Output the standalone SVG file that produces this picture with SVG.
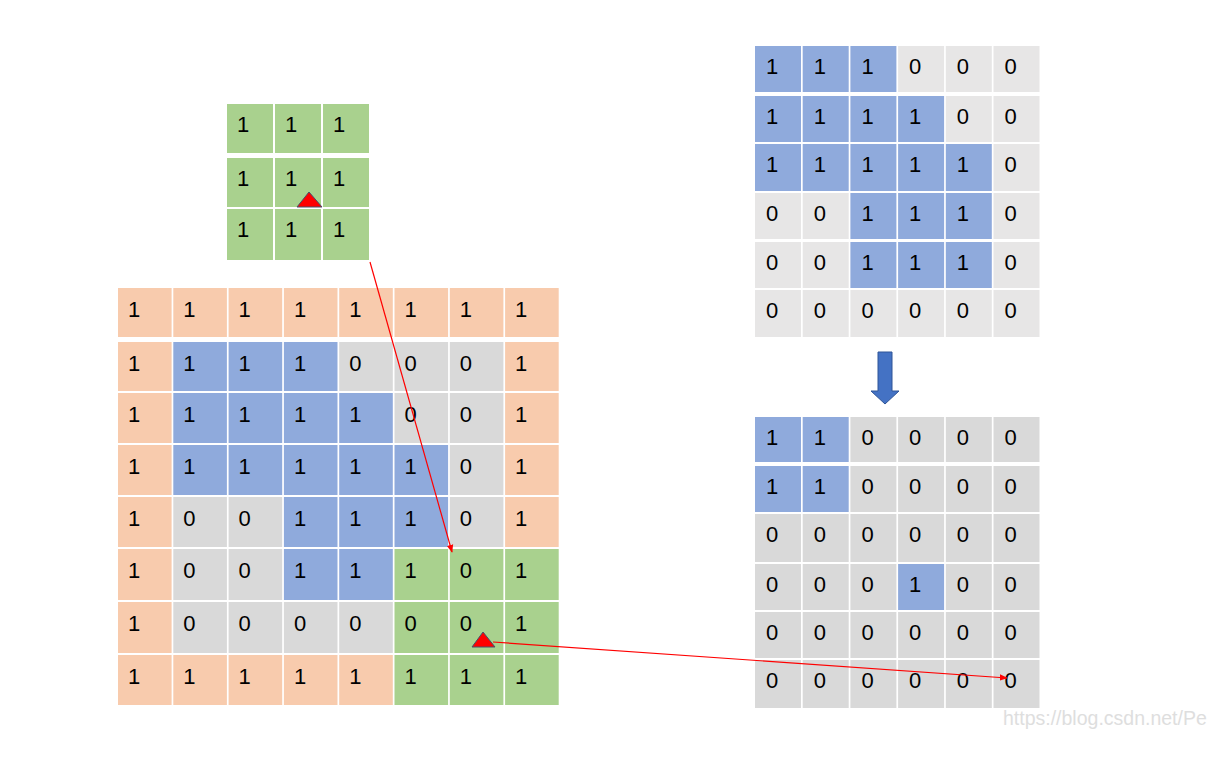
<svg xmlns="http://www.w3.org/2000/svg" width="1210" height="764" viewBox="0 0 1210 764">
<style>
.o{fill:#F8CBAD}.b{fill:#8FAADC}.g{fill:#D9D9D9}.lg{fill:#E7E6E6}.gr{fill:#A9D18E}
text{font-family:"Liberation Sans",Arial,sans-serif;font-size:22px;fill:#000}
.wm{font-size:19.5px;fill:#DEDEDE}
.tri{fill:#FF0000;stroke:#44546A;stroke-width:1}
.conn{stroke:#FF0000;stroke-width:1.2;fill:none;marker-end:url(#ah)}
</style>
<defs>
<marker id="ah" viewBox="0 0 10 10" refX="9" refY="5" markerWidth="8" markerHeight="8" markerUnits="userSpaceOnUse" orient="auto">
<path d="M0,1 L10,5 L0,9 Z" fill="#FF0000"/>
</marker>
</defs>
<rect width="1210" height="764" fill="#FFFFFF"/>

<g id="kernel">
<rect class="gr" x="227" y="104" width="46" height="49"/><rect class="gr" x="275" y="104" width="46" height="49"/><rect class="gr" x="323" y="104" width="46" height="49"/>
<rect class="gr" x="227" y="158" width="46" height="49"/><rect class="gr" x="275" y="158" width="46" height="49"/><rect class="gr" x="323" y="158" width="46" height="49"/>
<rect class="gr" x="227" y="209" width="46" height="51"/><rect class="gr" x="275" y="209" width="46" height="51"/><rect class="gr" x="323" y="209" width="46" height="51"/>
<text x="237" y="132">1</text><text x="285" y="132">1</text><text x="333" y="132">1</text>
<text x="237" y="186">1</text><text x="285" y="186">1</text><text x="333" y="186">1</text>
<text x="237" y="237">1</text><text x="285" y="237">1</text><text x="333" y="237">1</text>
<polygon class="tri" points="309,192 297,207 322,207"/>
</g>

<g id="input-grid">
<!-- row 1 -->
<rect class="o" x="118" y="288" width="53.6" height="49"/><rect class="o" x="173.3" y="288" width="53.6" height="49"/><rect class="o" x="228.6" y="288" width="53.6" height="49"/><rect class="o" x="283.9" y="288" width="53.6" height="49"/><rect class="o" x="339.2" y="288" width="53.6" height="49"/><rect class="o" x="394.5" y="288" width="53.6" height="49"/><rect class="o" x="449.8" y="288" width="53.6" height="49"/><rect class="o" x="505.1" y="288" width="53.6" height="49"/>
<!-- row 2 -->
<rect class="o" x="118" y="342" width="53.6" height="49"/><rect class="b" x="173.3" y="342" width="53.6" height="49"/><rect class="b" x="228.6" y="342" width="53.6" height="49"/><rect class="b" x="283.9" y="342" width="53.6" height="49"/><rect class="g" x="339.2" y="342" width="53.6" height="49"/><rect class="g" x="394.5" y="342" width="53.6" height="49"/><rect class="g" x="449.8" y="342" width="53.6" height="49"/><rect class="o" x="505.1" y="342" width="53.6" height="49"/>
<!-- row 3 -->
<rect class="o" x="118" y="393" width="53.6" height="50"/><rect class="b" x="173.3" y="393" width="53.6" height="50"/><rect class="b" x="228.6" y="393" width="53.6" height="50"/><rect class="b" x="283.9" y="393" width="53.6" height="50"/><rect class="b" x="339.2" y="393" width="53.6" height="50"/><rect class="g" x="394.5" y="393" width="53.6" height="50"/><rect class="g" x="449.8" y="393" width="53.6" height="50"/><rect class="o" x="505.1" y="393" width="53.6" height="50"/>
<!-- row 4 -->
<rect class="o" x="118" y="445" width="53.6" height="50"/><rect class="b" x="173.3" y="445" width="53.6" height="50"/><rect class="b" x="228.6" y="445" width="53.6" height="50"/><rect class="b" x="283.9" y="445" width="53.6" height="50"/><rect class="b" x="339.2" y="445" width="53.6" height="50"/><rect class="b" x="394.5" y="445" width="53.6" height="50"/><rect class="g" x="449.8" y="445" width="53.6" height="50"/><rect class="o" x="505.1" y="445" width="53.6" height="50"/>
<!-- row 5 -->
<rect class="o" x="118" y="497" width="53.6" height="50"/><rect class="g" x="173.3" y="497" width="53.6" height="50"/><rect class="g" x="228.6" y="497" width="53.6" height="50"/><rect class="b" x="283.9" y="497" width="53.6" height="50"/><rect class="b" x="339.2" y="497" width="53.6" height="50"/><rect class="b" x="394.5" y="497" width="53.6" height="50"/><rect class="g" x="449.8" y="497" width="53.6" height="50"/><rect class="o" x="505.1" y="497" width="53.6" height="50"/>
<!-- row 6 -->
<rect class="o" x="118" y="549" width="53.6" height="51"/><rect class="g" x="173.3" y="549" width="53.6" height="51"/><rect class="g" x="228.6" y="549" width="53.6" height="51"/><rect class="b" x="283.9" y="549" width="53.6" height="51"/><rect class="b" x="339.2" y="549" width="53.6" height="51"/><rect class="gr" x="394.5" y="549" width="53.6" height="51"/><rect class="gr" x="449.8" y="549" width="53.6" height="51"/><rect class="gr" x="505.1" y="549" width="53.6" height="51"/>
<!-- row 7 -->
<rect class="o" x="118" y="602" width="53.6" height="51"/><rect class="g" x="173.3" y="602" width="53.6" height="51"/><rect class="g" x="228.6" y="602" width="53.6" height="51"/><rect class="g" x="283.9" y="602" width="53.6" height="51"/><rect class="g" x="339.2" y="602" width="53.6" height="51"/><rect class="gr" x="394.5" y="602" width="53.6" height="51"/><rect class="gr" x="449.8" y="602" width="53.6" height="51"/><rect class="gr" x="505.1" y="602" width="53.6" height="51"/>
<!-- row 8 -->
<rect class="o" x="118" y="655" width="53.6" height="50"/><rect class="o" x="173.3" y="655" width="53.6" height="50"/><rect class="o" x="228.6" y="655" width="53.6" height="50"/><rect class="o" x="283.9" y="655" width="53.6" height="50"/><rect class="o" x="339.2" y="655" width="53.6" height="50"/><rect class="gr" x="394.5" y="655" width="53.6" height="50"/><rect class="gr" x="449.8" y="655" width="53.6" height="50"/><rect class="gr" x="505.1" y="655" width="53.6" height="50"/>

<text x="128" y="317">1</text><text x="183.3" y="317">1</text><text x="238.6" y="317">1</text><text x="293.9" y="317">1</text><text x="349.2" y="317">1</text><text x="404.5" y="317">1</text><text x="459.8" y="317">1</text><text x="515.1" y="317">1</text>
<text x="128" y="371">1</text><text x="183.3" y="371">1</text><text x="238.6" y="371">1</text><text x="293.9" y="371">1</text><text x="349.2" y="371">0</text><text x="404.5" y="371">0</text><text x="459.8" y="371">0</text><text x="515.1" y="371">1</text>
<text x="128" y="422">1</text><text x="183.3" y="422">1</text><text x="238.6" y="422">1</text><text x="293.9" y="422">1</text><text x="349.2" y="422">1</text><text x="404.5" y="422">0</text><text x="459.8" y="422">0</text><text x="515.1" y="422">1</text>
<text x="128" y="474">1</text><text x="183.3" y="474">1</text><text x="238.6" y="474">1</text><text x="293.9" y="474">1</text><text x="349.2" y="474">1</text><text x="404.5" y="474">1</text><text x="459.8" y="474">0</text><text x="515.1" y="474">1</text>
<text x="128" y="526">1</text><text x="183.3" y="526">0</text><text x="238.6" y="526">0</text><text x="293.9" y="526">1</text><text x="349.2" y="526">1</text><text x="404.5" y="526">1</text><text x="459.8" y="526">0</text><text x="515.1" y="526">1</text>
<text x="128" y="578">1</text><text x="183.3" y="578">0</text><text x="238.6" y="578">0</text><text x="293.9" y="578">1</text><text x="349.2" y="578">1</text><text x="404.5" y="578">1</text><text x="459.8" y="578">0</text><text x="515.1" y="578">1</text>
<text x="128" y="631">1</text><text x="183.3" y="631">0</text><text x="238.6" y="631">0</text><text x="293.9" y="631">0</text><text x="349.2" y="631">0</text><text x="404.5" y="631">0</text><text x="459.8" y="631">0</text><text x="515.1" y="631">1</text>
<text x="128" y="684">1</text><text x="183.3" y="684">1</text><text x="238.6" y="684">1</text><text x="293.9" y="684">1</text><text x="349.2" y="684">1</text><text x="404.5" y="684">1</text><text x="459.8" y="684">1</text><text x="515.1" y="684">1</text>
<polygon class="tri" points="483,632 472,647 495,647"/>
</g>

<g id="shape-grid">
<rect class="b" x="755" y="46" width="46" height="46"/><rect class="b" x="802.7" y="46" width="46" height="46"/><rect class="b" x="850.4" y="46" width="46" height="46"/><rect class="lg" x="898.1" y="46" width="46" height="46"/><rect class="lg" x="945.8" y="46" width="46" height="46"/><rect class="lg" x="993.5" y="46" width="46" height="46"/>
<rect class="b" x="755" y="96" width="46" height="46"/><rect class="b" x="802.7" y="96" width="46" height="46"/><rect class="b" x="850.4" y="96" width="46" height="46"/><rect class="b" x="898.1" y="96" width="46" height="46"/><rect class="lg" x="945.8" y="96" width="46" height="46"/><rect class="lg" x="993.5" y="96" width="46" height="46"/>
<rect class="b" x="755" y="144" width="46" height="47"/><rect class="b" x="802.7" y="144" width="46" height="47"/><rect class="b" x="850.4" y="144" width="46" height="47"/><rect class="b" x="898.1" y="144" width="46" height="47"/><rect class="b" x="945.8" y="144" width="46" height="47"/><rect class="lg" x="993.5" y="144" width="46" height="47"/>
<rect class="lg" x="755" y="193" width="46" height="46"/><rect class="lg" x="802.7" y="193" width="46" height="46"/><rect class="b" x="850.4" y="193" width="46" height="46"/><rect class="b" x="898.1" y="193" width="46" height="46"/><rect class="b" x="945.8" y="193" width="46" height="46"/><rect class="lg" x="993.5" y="193" width="46" height="46"/>
<rect class="lg" x="755" y="242" width="46" height="46"/><rect class="lg" x="802.7" y="242" width="46" height="46"/><rect class="b" x="850.4" y="242" width="46" height="46"/><rect class="b" x="898.1" y="242" width="46" height="46"/><rect class="b" x="945.8" y="242" width="46" height="46"/><rect class="lg" x="993.5" y="242" width="46" height="46"/>
<rect class="lg" x="755" y="290" width="46" height="47"/><rect class="lg" x="802.7" y="290" width="46" height="47"/><rect class="lg" x="850.4" y="290" width="46" height="47"/><rect class="lg" x="898.1" y="290" width="46" height="47"/><rect class="lg" x="945.8" y="290" width="46" height="47"/><rect class="lg" x="993.5" y="290" width="46" height="47"/>
<text x="766" y="74">1</text><text x="813.7" y="74">1</text><text x="861.4" y="74">1</text><text x="909.1" y="74">0</text><text x="956.8" y="74">0</text><text x="1004.5" y="74">0</text>
<text x="766" y="124">1</text><text x="813.7" y="124">1</text><text x="861.4" y="124">1</text><text x="909.1" y="124">1</text><text x="956.8" y="124">0</text><text x="1004.5" y="124">0</text>
<text x="766" y="172">1</text><text x="813.7" y="172">1</text><text x="861.4" y="172">1</text><text x="909.1" y="172">1</text><text x="956.8" y="172">1</text><text x="1004.5" y="172">0</text>
<text x="766" y="221">0</text><text x="813.7" y="221">0</text><text x="861.4" y="221">1</text><text x="909.1" y="221">1</text><text x="956.8" y="221">1</text><text x="1004.5" y="221">0</text>
<text x="766" y="270">0</text><text x="813.7" y="270">0</text><text x="861.4" y="270">1</text><text x="909.1" y="270">1</text><text x="956.8" y="270">1</text><text x="1004.5" y="270">0</text>
<text x="766" y="318">0</text><text x="813.7" y="318">0</text><text x="861.4" y="318">0</text><text x="909.1" y="318">0</text><text x="956.8" y="318">0</text><text x="1004.5" y="318">0</text>
</g>

<g id="down-arrow">
<polygon points="878,352 892,352 892,391 899,391 885,404 871,391 878,391" fill="#4472C4" stroke="#2F5597" stroke-width="1"/>
</g>

<g id="result-grid">
<rect class="b" x="755" y="417" width="46" height="45"/><rect class="b" x="802.7" y="417" width="46" height="45"/><rect class="g" x="850.4" y="417" width="46" height="45"/><rect class="g" x="898.1" y="417" width="46" height="45"/><rect class="g" x="945.8" y="417" width="46" height="45"/><rect class="g" x="993.5" y="417" width="46" height="45"/>
<rect class="b" x="755" y="466" width="46" height="46"/><rect class="b" x="802.7" y="466" width="46" height="46"/><rect class="g" x="850.4" y="466" width="46" height="46"/><rect class="g" x="898.1" y="466" width="46" height="46"/><rect class="g" x="945.8" y="466" width="46" height="46"/><rect class="g" x="993.5" y="466" width="46" height="46"/>
<rect class="g" x="755" y="514" width="46" height="48"/><rect class="g" x="802.7" y="514" width="46" height="48"/><rect class="g" x="850.4" y="514" width="46" height="48"/><rect class="g" x="898.1" y="514" width="46" height="48"/><rect class="g" x="945.8" y="514" width="46" height="48"/><rect class="g" x="993.5" y="514" width="46" height="48"/>
<rect class="g" x="755" y="564" width="46" height="46"/><rect class="g" x="802.7" y="564" width="46" height="46"/><rect class="g" x="850.4" y="564" width="46" height="46"/><rect class="b" x="898.1" y="564" width="46" height="46"/><rect class="g" x="945.8" y="564" width="46" height="46"/><rect class="g" x="993.5" y="564" width="46" height="46"/>
<rect class="g" x="755" y="612" width="46" height="46"/><rect class="g" x="802.7" y="612" width="46" height="46"/><rect class="g" x="850.4" y="612" width="46" height="46"/><rect class="g" x="898.1" y="612" width="46" height="46"/><rect class="g" x="945.8" y="612" width="46" height="46"/><rect class="g" x="993.5" y="612" width="46" height="46"/>
<rect class="g" x="755" y="660" width="46" height="48"/><rect class="g" x="802.7" y="660" width="46" height="48"/><rect class="g" x="850.4" y="660" width="46" height="48"/><rect class="g" x="898.1" y="660" width="46" height="48"/><rect class="g" x="945.8" y="660" width="46" height="48"/><rect class="g" x="993.5" y="660" width="46" height="48"/>
<text x="766" y="445">1</text><text x="813.7" y="445">1</text><text x="861.4" y="445">0</text><text x="909.1" y="445">0</text><text x="956.8" y="445">0</text><text x="1004.5" y="445">0</text>
<text x="766" y="494">1</text><text x="813.7" y="494">1</text><text x="861.4" y="494">0</text><text x="909.1" y="494">0</text><text x="956.8" y="494">0</text><text x="1004.5" y="494">0</text>
<text x="766" y="542">0</text><text x="813.7" y="542">0</text><text x="861.4" y="542">0</text><text x="909.1" y="542">0</text><text x="956.8" y="542">0</text><text x="1004.5" y="542">0</text>
<text x="766" y="592">0</text><text x="813.7" y="592">0</text><text x="861.4" y="592">0</text><text x="909.1" y="592">1</text><text x="956.8" y="592">0</text><text x="1004.5" y="592">0</text>
<text x="766" y="640">0</text><text x="813.7" y="640">0</text><text x="861.4" y="640">0</text><text x="909.1" y="640">0</text><text x="956.8" y="640">0</text><text x="1004.5" y="640">0</text>
<text x="766" y="688">0</text><text x="813.7" y="688">0</text><text x="861.4" y="688">0</text><text x="909.1" y="688">0</text><text x="956.8" y="688">0</text><text x="1004.5" y="688">0</text>
</g>

<g id="connectors">
<path class="conn" d="M370,262 L452,552"/>
<path class="conn" d="M493,642 L1007,678"/>
</g>

<text class="wm" x="1003" y="725">https://blog.csdn.net/Pe</text>
</svg>
